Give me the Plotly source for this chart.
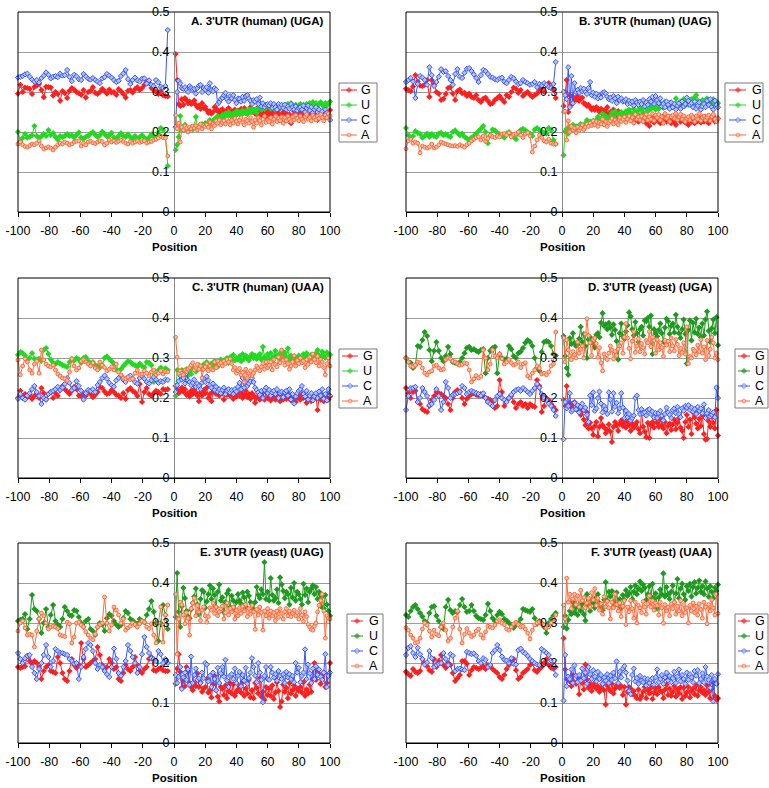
import plotly.graph_objects as go

W, H = 769, 788

# ---------------- positions ----------------
NEG_POS = [-100 + 1.5 * i for i in range(65)]   # upstream positions (-100 .. -4)
POS_POS = list(range(1, 101))                   # downstream positions (1 .. 100)
X_TICKS = [-100, -80, -60, -40, -20, 0, 20, 40, 60, 80, 100]
X_TICK_TEXT = ["-100", "-80", "-60", "-40", "-20", "0", "20", "40", "60", "80", "100"]
Y_TICKS = [0, 0.1, 0.2, 0.3, 0.4, 0.5]
Y_TICK_TEXT = ["0", "0.1", "0.2", "0.3", "0.4", "0.5"]
SERIES = ["G", "U", "C", "A"]

# ---------------- data (fractions x 1000) ----------------
# Panel A: 3'UTR (human) (UGA)
A_G_neg = [296,318,300,311,310,308,295,313,316,320,305,287,313,
           312,311,291,300,295,278,302,297,285,303,310,306,300,
           297,293,305,286,300,303,312,298,295,300,308,302,296,
           306,299,300,293,307,302,295,286,303,305,299,307,312,
           305,310,318,325,322,310,305,300,295,302,292,290,289]
A_U_neg = [200,176,185,195,186,188,192,215,190,186,189,195,190,
           205,193,197,188,181,190,187,190,195,190,192,186,193,
           199,186,183,188,190,196,200,193,188,192,201,195,189,
           192,198,186,183,190,197,190,188,194,187,184,190,183,
           187,192,186,180,186,194,190,186,198,210,205,190,115]
A_C_neg = [336,338,340,344,346,338,331,326,330,324,335,341,349,
           343,334,338,340,337,346,341,342,355,338,327,343,339,
           332,330,345,339,333,331,335,330,326,322,334,337,345,
           341,336,330,325,328,340,346,355,332,320,330,336,329,
           326,333,334,321,329,318,315,330,324,313,310,315,455]
A_A_neg = [170,175,168,164,162,166,170,168,172,178,165,158,160,
           163,160,155,162,168,172,170,175,172,168,170,175,177,
           178,165,172,168,175,177,173,171,175,178,176,168,172,
           180,175,178,174,177,180,176,172,170,176,172,175,178,
           174,176,178,172,175,176,180,182,185,190,186,185,140]
A_G_pos = [395,330,270,265,282,268,285,280,272,276,
           270,273,279,268,262,266,258,272,260,263,
           255,248,252,246,250,262,258,252,248,254,
           257,250,244,255,260,248,252,246,256,243,
           253,246,258,250,260,248,245,253,262,250,
           255,246,258,240,250,242,256,248,238,255,
           245,252,240,250,232,248,256,243,240,250,
           238,246,230,244,222,240,252,236,246,240,
           248,238,245,250,240,236,244,250,238,242,
           246,230,248,240,238,252,235,244,240,255]
A_U_pos = [155,168,188,240,205,212,218,208,202,210,
           212,206,214,238,210,215,218,220,214,222,
           218,225,230,222,228,232,236,240,230,238,
           242,236,246,240,250,242,238,246,240,252,
           246,250,242,254,248,252,245,256,250,258,
           252,256,248,260,262,256,264,258,262,266,
           262,258,266,262,256,264,268,260,266,262,
           268,262,270,266,272,264,262,268,260,266,
           270,264,268,262,270,266,272,264,275,268,
           272,266,270,275,268,264,272,266,270,276]
A_C_pos = [212,300,328,322,310,308,312,305,300,315,
           310,306,308,296,310,316,318,300,310,306,
           312,298,322,304,302,310,306,270,275,282,
           285,292,298,282,276,290,284,292,280,272,
           284,282,276,288,278,290,292,284,278,270,
           280,276,282,270,286,264,272,262,268,270,
           266,272,260,270,262,256,270,262,268,260,
           268,256,264,258,270,262,256,264,254,260,
           262,256,266,250,260,266,254,262,248,256,
           262,250,256,240,252,234,256,248,244,230]
A_A_pos = [242,208,222,175,212,205,215,210,200,212,
           208,215,210,216,205,212,220,208,216,214,
           218,212,225,208,220,216,228,222,230,218,
           224,228,220,232,226,218,230,222,234,226,
           220,230,236,224,218,232,228,222,236,226,
           212,230,222,236,228,218,232,240,224,230,
           226,236,220,232,240,226,234,228,238,222,
           236,228,240,232,226,238,230,242,234,228,
           240,232,226,238,244,232,236,228,242,236,
           230,240,234,244,236,228,242,236,246,240]

# Panel B: 3'UTR (human) (UAG)
B_G_neg = [308,305,302,314,342,326,316,315,318,330,288,330,320,
           300,296,280,283,295,310,312,296,280,302,306,297,298,
           290,296,288,285,292,280,275,283,286,278,270,272,280,
           285,290,282,275,292,288,300,311,308,298,305,290,296,
           300,293,288,292,296,304,310,300,318,322,310,305,285]
B_U_neg = [210,192,186,190,202,198,195,186,190,196,188,195,190,
           188,196,198,192,195,190,188,200,204,198,192,196,188,
           184,178,186,190,196,202,208,215,200,172,192,206,204,
           198,195,190,186,196,200,192,188,182,196,205,208,204,
           200,196,190,206,210,205,202,198,196,210,205,180,170]
B_C_neg = [325,330,335,326,285,320,340,336,330,318,362,342,315,
           325,338,357,350,352,340,330,318,345,357,338,335,348,
           358,360,352,344,335,325,342,355,352,345,338,336,332,
           330,334,336,326,322,330,338,334,326,320,322,330,325,
           322,318,320,325,312,320,316,322,318,312,310,320,375]
B_A_neg = [158,178,182,172,175,172,148,165,162,160,163,170,160,
           162,168,175,172,170,168,166,165,166,164,168,165,162,
           168,172,178,182,186,188,180,190,176,184,192,188,186,
           190,188,195,196,192,198,188,194,196,200,192,186,195,
           198,190,150,165,180,192,186,178,175,182,172,170,170]
B_G_pos = [265,300,330,250,292,268,288,282,280,290,
           278,284,286,272,270,265,268,262,256,260,
           255,262,258,250,258,246,254,248,262,244,
           250,240,256,246,236,252,244,240,238,246,
           242,236,250,230,240,246,232,238,226,240,
           234,228,240,222,236,215,230,238,224,232,
           240,228,222,236,230,244,226,232,238,222,
           230,226,218,236,232,226,240,228,224,232,
           218,236,226,230,222,236,228,232,224,236,
           226,238,230,222,236,232,240,226,228,234]
B_U_pos = [142,202,208,196,212,210,218,206,214,212,
           208,220,216,214,222,230,218,226,224,228,
           222,230,238,226,232,246,228,240,236,234,
           240,248,236,252,222,244,238,250,242,246,
           252,244,256,248,240,258,250,246,254,262,
           256,248,264,258,252,266,258,270,262,256,
           264,258,270,266,260,276,268,262,272,266,
           270,264,284,268,262,276,270,282,266,274,
           268,276,282,270,286,292,278,268,272,280,
           276,266,284,272,278,268,282,270,276,272]
B_C_pos = [300,292,282,362,262,340,272,322,300,305,
           298,310,302,308,300,295,310,325,292,298,
           288,296,284,290,286,298,300,296,288,282,
           286,278,290,284,272,288,280,284,276,278,
           282,270,278,272,276,266,280,274,268,276,
           270,280,264,274,268,282,276,288,270,290,
           280,272,284,264,270,262,276,268,258,274,
           262,270,256,266,272,258,276,264,270,286,
           278,268,272,262,276,258,266,274,256,264,
           270,262,278,268,282,262,256,278,268,262]
B_A_pos = [250,252,180,228,200,214,205,210,198,212,
           204,210,218,206,212,220,214,222,216,228,
           218,226,214,224,220,232,218,226,214,222,
           228,234,220,230,224,218,236,226,232,238,
           224,232,240,228,236,222,244,232,238,230,
           240,226,236,244,230,238,232,246,228,242,
           236,244,230,238,222,246,234,240,226,238,
           242,234,246,230,238,244,232,240,226,234,
           238,230,242,236,226,240,232,246,228,236,
           240,230,236,242,228,238,244,232,226,234]

# Panel C: 3'UTR (human) (UAA)
C_G_neg = [200,218,205,210,202,208,198,205,212,200,225,212,196,
           210,215,200,212,205,220,230,222,216,210,218,228,222,
           206,205,212,206,218,210,202,208,215,228,225,216,210,
           212,220,215,208,206,200,212,198,220,225,218,214,205,
           235,190,215,225,210,205,212,218,215,210,222,220,222]
C_U_neg = [308,315,312,306,296,300,312,298,295,298,293,320,325,
           310,296,288,285,290,286,282,280,278,290,298,294,300,
           296,288,300,302,292,286,290,282,280,276,282,300,304,
           298,292,286,270,268,272,280,286,292,290,285,282,278,
           286,280,276,290,288,282,240,260,270,276,262,274,270]
C_C_neg = [198,210,200,196,206,212,222,230,215,205,185,200,196,
           210,215,218,222,228,220,226,235,250,238,220,225,242,
           230,218,196,212,220,218,222,215,232,240,250,256,248,
           238,232,228,244,250,256,246,240,252,256,248,240,236,
           250,255,248,240,236,244,252,246,238,242,240,246,245]
C_A_neg = [295,258,280,298,290,270,262,285,292,262,320,295,285,
           280,278,282,270,260,255,250,248,244,265,298,280,270,
           275,292,296,290,285,280,288,275,270,290,282,276,268,
           272,278,270,285,265,258,250,248,252,246,248,262,270,
           258,260,268,262,255,265,270,258,262,268,260,266,265]
C_G_pos = [230,222,212,218,226,216,222,208,212,204,
           218,210,222,214,206,192,214,206,220,212,
           226,200,210,192,216,222,210,218,206,214,
           212,196,220,208,214,206,212,198,218,204,
           210,206,214,200,208,218,202,210,198,212,
           206,188,200,212,196,210,202,196,214,200,
           208,194,202,212,196,200,206,192,210,196,
           204,198,210,200,194,208,202,190,200,206,
           196,210,200,202,188,196,206,192,200,198,
           204,170,200,196,206,192,200,210,196,204]
C_U_pos = [205,270,268,262,270,256,262,272,256,268,
           260,276,272,266,270,282,276,272,284,278,
           290,282,276,286,280,292,284,278,290,296,
           286,292,296,300,288,302,296,308,294,300,
           296,304,292,310,298,306,300,294,304,310,
           300,306,298,304,310,296,328,302,296,310,
           300,312,296,304,318,306,300,312,296,308,
           314,302,324,296,306,300,290,302,296,306,
           300,294,310,304,312,300,292,308,298,304,
           312,320,306,300,316,306,300,314,310,308]
C_C_pos = [215,232,242,256,246,250,236,262,244,240,
           232,238,246,228,236,230,222,238,248,240,
           254,244,232,226,236,220,228,216,222,212,
           220,226,210,218,222,214,220,210,222,216,
           228,238,222,250,226,240,230,236,242,250,
           240,226,220,214,208,218,200,220,226,212,
           220,206,214,218,210,222,200,212,216,202,
           214,218,206,222,196,210,186,204,212,218,
           222,230,210,204,218,196,206,212,194,204,
           212,200,216,206,222,198,210,194,222,206]
C_A_pos = [352,302,262,268,262,258,270,266,272,276,
           282,288,270,276,284,272,280,250,272,278,
           286,268,280,272,270,290,276,292,284,288,
           280,292,286,296,290,298,286,270,276,262,
           268,274,258,264,240,272,250,262,268,256,
           262,270,280,274,268,278,286,272,290,276,
           282,290,270,296,284,278,302,288,320,294,
           282,296,286,272,280,290,306,280,294,286,
           300,288,292,276,296,284,302,290,310,296,
           288,304,280,296,290,276,258,286,300,280]

# Panel D: 3'UTR (yeast) (UGA)
D_G_neg = [225,212,200,215,218,190,185,172,168,165,180,195,205,
           215,212,210,205,200,185,170,200,215,220,216,200,185,
           198,205,210,212,208,206,210,205,200,198,195,190,175,
           180,245,215,180,195,200,205,190,175,185,190,180,185,
           175,185,180,178,245,230,165,180,200,195,185,178,170]
D_U_neg = [300,290,288,275,282,330,328,345,365,355,320,292,318,
           340,318,300,292,305,328,310,290,288,286,290,300,312,
           325,328,320,322,318,315,320,322,262,300,318,325,328,
           262,310,300,296,298,330,322,305,300,312,316,325,338,
           345,340,330,300,275,268,315,340,342,340,330,310,306]
D_C_neg = [170,205,225,225,228,190,200,225,215,205,182,185,195,
           222,205,170,190,240,225,200,208,210,212,215,230,225,
           210,215,218,215,212,210,206,212,200,190,185,180,195,
           205,210,200,195,190,200,208,215,220,222,218,225,220,
           215,210,218,225,235,226,210,200,195,186,180,170,155]
D_A_neg = [300,290,280,278,282,290,288,275,262,258,265,268,280,
           282,275,270,272,296,300,298,292,290,286,282,284,288,
           286,270,240,248,256,250,254,320,300,270,285,320,305,
           300,310,298,285,290,296,288,282,285,290,276,285,288,
           255,250,262,270,280,275,260,262,258,265,280,285,365]
D_G_pos = [195,180,230,182,188,178,186,190,172,176,
           166,158,168,146,132,164,124,138,124,108,
           130,140,104,128,150,132,126,112,120,134,
           116,90,128,140,132,118,136,144,130,138,
           126,142,132,118,136,126,132,140,122,112,
           168,128,116,102,138,100,132,140,126,152,
           138,128,146,132,124,140,112,130,136,120,
           134,146,122,138,150,126,118,100,140,158,
           128,146,110,164,152,136,124,148,130,156,
           110,96,98,142,128,156,138,124,170,106]
D_U_pos = [355,305,275,258,350,335,362,338,330,334,
           348,378,340,360,330,300,346,352,340,336,
           326,358,362,352,388,412,380,384,372,388,
           376,358,384,370,342,296,362,386,354,348,
           366,382,414,404,372,356,390,362,340,372,
           378,356,394,392,400,378,406,310,372,362,
           354,370,386,362,340,376,398,392,360,380,
           386,364,408,378,362,350,372,396,360,286,
           370,394,344,388,364,398,360,376,352,386,
           356,396,416,368,340,374,396,362,402,332]
D_C_pos = [97,190,174,180,212,166,170,188,172,182,
           164,178,186,170,176,158,140,206,182,214,
           168,174,200,216,186,164,180,172,160,214,
           196,166,212,178,188,162,174,212,176,150,
           168,152,160,144,150,156,200,206,170,160,
           172,162,164,156,170,172,160,166,152,162,
           150,162,168,156,144,160,176,164,158,150,
           170,174,162,178,160,152,174,168,180,176,
           182,170,176,166,172,160,178,168,174,162,
           184,150,162,170,154,158,164,152,226,200]
D_A_pos = [350,290,345,320,306,296,316,308,300,340,
           312,322,330,300,360,398,356,338,306,346,
           350,336,302,326,288,268,310,300,296,312,
           330,320,298,316,306,322,330,338,312,352,
           386,350,324,298,342,366,314,330,348,316,
           336,326,310,344,338,366,328,352,344,312,
           346,320,338,326,304,344,332,342,316,350,
           330,318,346,334,306,324,314,338,310,378,
           286,304,300,322,318,308,332,316,346,312,
           328,296,344,306,322,352,338,300,312,296]

# Panel E: 3'UTR (yeast) (UAG)
E_G_neg = [190,188,190,192,218,205,198,205,200,190,160,180,190,
           195,180,178,175,215,200,175,160,155,180,210,195,188,
           195,250,210,190,195,200,205,210,240,220,195,185,190,
           210,200,185,190,160,155,175,195,185,180,190,215,195,
           180,175,185,190,210,215,182,180,185,188,182,180,180]
E_U_neg = [305,308,310,322,285,310,370,335,330,310,275,300,335,
           290,320,345,305,296,290,310,340,330,320,318,332,330,
           315,300,290,305,310,285,280,270,290,300,296,280,312,
           322,318,305,296,290,295,312,330,325,310,306,300,298,
           310,305,302,320,335,355,328,300,255,300,345,320,285]
E_C_neg = [225,210,200,212,218,220,190,175,160,185,200,220,245,
           215,190,205,235,230,225,225,222,220,210,205,198,200,
           160,190,215,235,250,245,230,200,185,195,190,180,172,
           165,190,236,210,175,168,190,205,245,230,215,200,175,
           190,222,265,240,225,212,210,205,230,222,200,210,200]
E_A_neg = [280,300,305,288,270,272,270,240,280,310,325,318,300,
           285,290,292,290,286,270,268,266,302,298,250,265,300,
           302,295,290,278,270,262,258,272,290,296,300,365,300,
           280,295,340,332,320,300,310,282,288,292,300,296,290,
           298,305,302,290,286,298,270,250,300,340,252,320,345]
E_G_pos = [148,186,222,178,138,156,142,190,178,150,
           140,132,150,142,174,140,152,128,136,140,
           160,126,132,114,146,168,132,116,104,140,
           136,120,144,112,130,150,124,146,118,128,
           134,142,126,152,118,136,124,158,114,132,
           112,150,138,124,162,116,128,108,140,120,
           136,118,144,110,126,152,130,90,104,146,
           128,138,112,150,124,132,144,118,136,130,
           140,126,152,118,134,124,146,128,160,200,
           158,180,172,148,166,176,140,150,172,200]
E_U_pos = [315,425,328,290,342,388,362,330,316,312,
           334,350,366,386,346,322,360,382,378,338,
           354,372,394,360,386,370,340,378,396,356,
           364,326,352,374,382,340,368,356,334,352,
           372,356,348,376,364,340,378,368,352,346,
           334,352,390,370,362,384,372,452,360,378,
           356,412,370,356,362,384,350,414,396,380,
           362,378,372,346,388,364,400,356,378,372,
           360,346,398,370,386,352,378,386,394,372,
           390,360,378,342,366,336,370,346,330,318]
E_C_pos = [170,150,165,190,135,164,176,158,184,146,
           216,150,170,186,158,162,150,176,162,200,
           196,154,168,140,176,160,132,188,150,174,
           190,166,208,156,140,168,172,160,186,150,
           168,178,142,170,156,188,148,162,176,212,
           190,168,152,200,176,158,102,168,190,160,
           158,190,176,164,172,156,180,168,160,172,
           150,178,164,172,160,168,152,200,176,188,
           152,168,176,234,160,196,174,150,186,160,
           192,170,184,166,158,176,222,140,168,176]
E_A_pos = [372,222,310,352,346,320,298,326,312,270,
           336,350,362,318,344,328,306,332,340,318,
           302,316,338,332,350,324,340,318,328,336,
           342,310,326,350,320,336,328,340,310,332,
           318,338,324,342,330,346,316,336,322,344,
           328,284,334,320,340,326,282,330,318,336,
           312,330,318,326,306,330,314,336,324,310,
           328,336,318,330,316,324,332,318,326,310,
           336,320,304,328,316,296,290,284,282,292,
           300,328,344,356,372,330,262,318,312,310]

# Panel F: 3'UTR (yeast) (UAA)
F_G_neg = [178,172,168,185,178,175,180,210,200,192,182,178,210,
           190,205,220,195,188,200,195,175,155,162,170,205,205,
           198,170,182,190,188,185,188,192,185,195,192,185,180,
           175,165,160,170,185,195,205,210,182,160,165,175,180,
           185,195,200,182,178,185,190,200,210,195,188,186,190]
F_U_neg = [320,315,330,340,345,335,325,316,305,300,325,340,342,
           318,305,290,285,340,358,332,325,330,328,345,360,340,
           328,330,345,330,318,312,310,308,320,348,330,312,305,
           320,328,322,310,306,300,295,288,296,300,310,335,332,
           330,328,335,312,298,305,300,290,275,300,310,318,325]
F_C_neg = [220,238,242,225,215,238,222,210,196,202,230,212,190,
           195,198,200,225,210,195,222,218,180,185,186,184,182,
           228,225,222,224,218,205,200,212,208,190,195,225,232,
           245,232,216,208,206,200,212,198,196,232,236,228,224,
           218,210,205,200,196,195,235,230,225,220,206,195,170]
F_A_neg = [288,282,270,262,250,252,262,285,300,295,280,265,282,
           272,268,290,300,282,255,262,290,312,330,285,250,272,
           286,275,266,270,280,285,270,262,278,292,290,288,295,
           305,308,300,296,285,282,290,298,302,296,290,292,285,
           275,260,282,295,300,302,298,295,288,290,300,310,320]
F_G_pos = [262,184,160,164,154,142,170,152,148,166,
           122,160,150,134,196,158,138,148,130,142,
           150,136,142,128,138,148,132,96,144,136,
           130,148,124,136,144,142,138,142,120,140,
           96,128,140,136,122,130,118,112,134,110,
           118,128,140,112,132,124,138,110,126,136,
           122,140,130,128,112,134,146,120,136,118,
           128,142,116,134,124,140,110,138,118,126,
           140,114,130,136,122,144,118,132,140,126,
           132,120,144,128,112,136,150,118,108,112]
F_U_pos = [290,318,286,308,330,322,352,326,338,320,
           340,330,348,322,306,372,344,330,358,350,
           338,364,372,350,340,332,358,402,356,378,
           366,380,352,344,376,346,360,338,370,358,
           382,368,374,390,360,378,394,372,386,404,
           380,396,388,358,372,392,366,398,360,374,
           336,364,384,372,424,366,390,372,360,378,
           394,352,374,410,362,386,398,372,358,392,
           380,398,366,390,402,374,388,406,378,392,
           372,404,386,366,392,378,362,388,380,396]
F_C_pos = [106,220,142,166,160,184,150,194,168,152,
           170,156,186,162,176,148,190,172,160,182,
           166,154,178,160,170,148,164,156,172,150,
           168,158,176,162,204,150,178,164,186,192,
           176,156,130,122,170,186,154,162,148,168,
           156,152,162,144,160,150,158,162,146,164,
           184,152,160,170,148,164,176,156,168,152,
           162,178,150,166,184,154,170,160,148,176,
           158,172,164,152,180,168,182,150,160,174,
           152,190,166,158,138,170,104,160,148,172]
F_A_pos = [345,310,412,352,372,336,360,372,346,368,
           340,382,356,364,338,350,362,340,376,358,
           386,344,362,332,348,322,366,340,354,338,
           310,352,338,372,346,330,350,316,342,356,
           296,340,328,356,336,312,352,300,344,338,
           326,354,340,322,348,368,340,356,332,350,
           344,320,352,338,300,346,330,340,318,348,
           336,352,322,342,330,356,318,346,326,338,
           300,344,330,350,326,342,320,348,334,312,
           352,340,298,346,330,358,338,320,372,324]

DATA = {
    "A": {"G": (A_G_neg, A_G_pos), "U": (A_U_neg, A_U_pos), "C": (A_C_neg, A_C_pos), "A": (A_A_neg, A_A_pos)},
    "B": {"G": (B_G_neg, B_G_pos), "U": (B_U_neg, B_U_pos), "C": (B_C_neg, B_C_pos), "A": (B_A_neg, B_A_pos)},
    "C": {"G": (C_G_neg, C_G_pos), "U": (C_U_neg, C_U_pos), "C": (C_C_neg, C_C_pos), "A": (C_A_neg, C_A_pos)},
    "D": {"G": (D_G_neg, D_G_pos), "U": (D_U_neg, D_U_pos), "C": (D_C_neg, D_C_pos), "A": (D_A_neg, D_A_pos)},
    "E": {"G": (E_G_neg, E_G_pos), "U": (E_U_neg, E_U_pos), "C": (E_C_neg, E_C_pos), "A": (E_A_neg, E_A_pos)},
    "F": {"G": (F_G_neg, F_G_pos), "U": (F_U_neg, F_U_pos), "C": (F_C_neg, F_C_pos), "A": (F_A_neg, F_A_pos)},
}

PANEL_TITLES = {
    "A": "A. 3'UTR (human) (UGA)", "B": "B. 3'UTR (human) (UAG)",
    "C": "C. 3'UTR (human) (UAA)", "D": "D. 3'UTR (yeast) (UGA)",
    "E": "E. 3'UTR (yeast) (UAG)", "F": "F. 3'UTR (yeast) (UAA)",
}

# ---------------- layout geometry (pixels) ----------------
COLS = [(18, 330), (406, 718)]
ROWS = [(12, 212), (278, 478), (543, 743)]
PANEL_CELL = {"A": (0, 0), "B": (1, 0), "C": (0, 1), "D": (1, 1), "E": (0, 2), "F": (1, 2)}
# legend: box left, box right, line start, line end, marker x, text x
LEG_GEOM = {
    "A": (339, 377, 341, 357, 349, 359),
    "B": (725, 763, 729, 746, 738, 750),
    "C": (339, 377, 342, 358, 350, 361),
    "D": (735, 768, 738, 750, 744, 753),
    "E": (347, 383, 351, 363, 357, 367),
    "F": (735, 768, 738, 750, 744, 753),
}
LEG_DY = [7, 22, 37, 52]

FONT = "Liberation Sans, Arial, sans-serif"
RED = "#ff1f1f"
U_HUMAN = "#22d922"
U_YEAST = "#1e9a1e"
BLUE = "#3556ff"
ORANGE = "#ff6a3d"


def style(series, yeast):
    if series == "G":
        return dict(color=RED, marker=dict(symbol="diamond", size=4.8, color=RED, line=dict(width=0)))
    if series == "U":
        c = U_YEAST if yeast else U_HUMAN
        return dict(color=c, marker=dict(symbol="diamond", size=4.8, color=c, line=dict(width=0)))
    if series == "C":
        return dict(color=BLUE, marker=dict(symbol="diamond", size=4, color="#b4c2ff", line=dict(width=1, color=BLUE)))
    return dict(color=ORANGE, marker=dict(symbol="circle", size=3.8, color="#ffbfa5", line=dict(width=1, color=ORANGE)))


def px_x(v):
    return v / W


def px_y(v):
    return 1 - v / H


fig = go.Figure()
annotations = []
shapes = []

for k, panel in enumerate(["A", "B", "C", "D", "E", "F"], start=1):
    ci, ri = PANEL_CELL[panel]
    x0, x1 = COLS[ci]
    y0, y1 = ROWS[ri]
    yeast = panel in ("D", "E", "F")
    xa = "x" if k == 1 else f"x{k}"
    ya = "y" if k == 1 else f"y{k}"

    for s in SERIES:
        neg, pos = DATA[panel][s]
        xs = NEG_POS[:len(neg)] + [None] + POS_POS[:len(pos)]
        ys = [v / 1000 for v in neg] + [None] + [v / 1000 for v in pos]
        st = style(s, yeast)
        fig.add_trace(go.Scatter(
            x=xs, y=ys, mode="lines+markers", xaxis=xa, yaxis=ya,
            line=dict(color=st["color"], width=1), marker=st["marker"],
            connectgaps=False, cliponaxis=False, showlegend=False, hoverinfo="skip",
        ))

    xkey = "xaxis" if k == 1 else f"xaxis{k}"
    ykey = "yaxis" if k == 1 else f"yaxis{k}"
    fig.layout[xkey] = dict(
        domain=[px_x(x0), px_x(x1)], range=[-100, 100], anchor=ya,
        tickvals=X_TICKS, ticktext=X_TICK_TEXT, ticks="outside", ticklen=4, tickcolor="black",
        showline=True, linecolor="black", linewidth=1, showgrid=False, zeroline=False,
        tickfont=dict(family=FONT, size=12.5, color="black"), ticklabelstandoff=3,
        automargin=False, fixedrange=True,
    )
    fig.layout[ykey] = dict(
        domain=[px_y(y1), px_y(y0)], range=[0, 0.5], anchor="free",
        position=px_x((x0 + x1) / 2), tickvals=Y_TICKS, ticktext=Y_TICK_TEXT,
        showline=True, linecolor="#8a8a8a", linewidth=1,
        showgrid=True, gridcolor="#9c9c9c", gridwidth=1, zeroline=False,
        ticks="", tickfont=dict(family=FONT, size=12.5, color="black"),
        ticklabelstandoff=2, automargin=False, fixedrange=True,
    )
    # plot frame
    shapes.append(dict(type="rect", xref=f"{xa} domain", yref=f"{ya} domain",
                       x0=0, x1=1, y0=0, y1=1, line=dict(color="black", width=1), layer="above"))
    # panel title
    annotations.append(dict(text=f"<b>{PANEL_TITLES[panel]}</b>", xref="paper", yref="paper",
                            x=px_x(x1 - 4), y=px_y(y0 + 9), xanchor="right", yanchor="middle",
                            showarrow=False, font=dict(family=FONT, size=11.5, color="black")))
    # axis title
    annotations.append(dict(text="<b>Position</b>", xref="paper", yref="paper",
                            x=px_x((x0 + x1) / 2), y=px_y(y1 + 35), xanchor="center", yanchor="middle",
                            showarrow=False, font=dict(family=FONT, size=11.5, color="black")))
    # legend box
    bl, br, ls, le, mx, tx = LEG_GEOM[panel]
    btop = y0 + 71
    shapes.append(dict(type="rect", xref="paper", yref="paper",
                       x0=px_x(bl), x1=px_x(br), y0=px_y(btop + 59), y1=px_y(btop),
                       line=dict(color="#7a7a7a", width=1), fillcolor="white", layer="below"))
    for j, s in enumerate(SERIES):
        yc = btop + LEG_DY[j]
        st = style(s, yeast)
        m = dict(st["marker"])
        m["size"] = [0, m["size"], 0]
        fig.add_trace(go.Scatter(
            x=[ls, mx, le], y=[yc, yc, yc], mode="lines+markers", xaxis="x7", yaxis="y7",
            line=dict(color=st["color"], width=1), marker=m,
            showlegend=False, hoverinfo="skip", cliponaxis=False,
        ))
        annotations.append(dict(text=s, xref="paper", yref="paper", x=px_x(tx), y=px_y(yc),
                                xanchor="left", yanchor="middle", showarrow=False,
                                font=dict(family=FONT, size=12.5, color="black")))

# overlay axes in pixel units for the legend symbols
fig.layout["xaxis7"] = dict(domain=[0, 1], range=[0, W], visible=False, anchor="y7",
                            fixedrange=True, automargin=False)
fig.layout["yaxis7"] = dict(domain=[0, 1], range=[H, 0], visible=False, anchor="x7",
                            fixedrange=True, automargin=False)

fig.update_layout(
    width=W, height=H, margin=dict(l=0, r=0, t=0, b=0, pad=0, autoexpand=False),
    paper_bgcolor="white", plot_bgcolor="rgba(0,0,0,0)",
    showlegend=False, annotations=annotations, shapes=shapes,
    font=dict(family=FONT, color="black"),
)

fig.write_html(
    "out.html",
    config={"displayModeBar": False},
    post_script="document.body.style.margin='0px';document.body.style.overflow='hidden';",
)
